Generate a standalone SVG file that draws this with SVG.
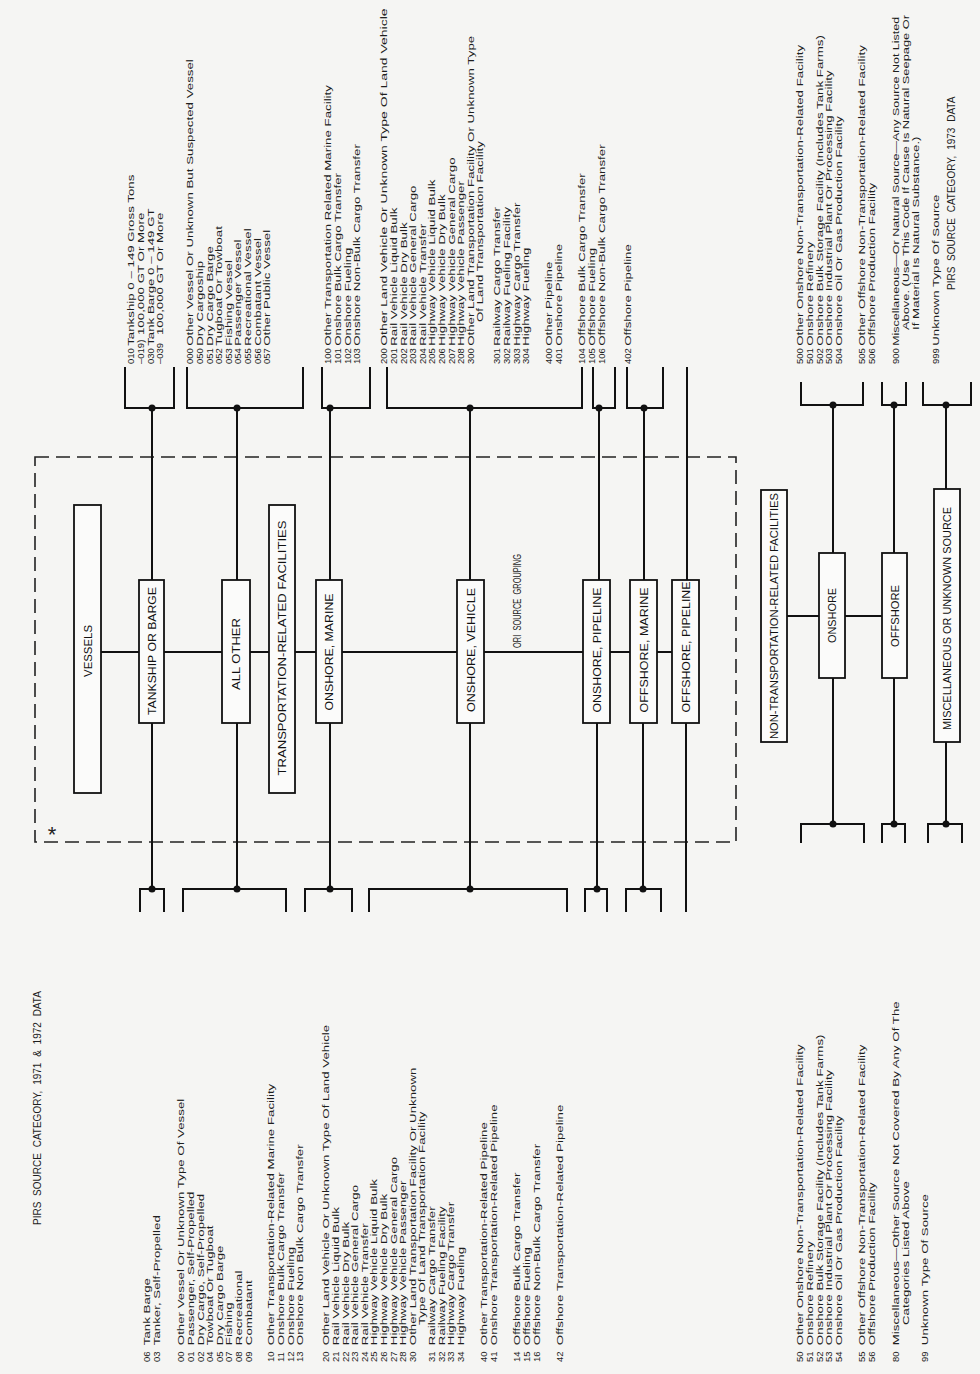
<svg xmlns="http://www.w3.org/2000/svg" width="980" height="1374" viewBox="0 0 980 1374">
<style>
.t{font-family:"Liberation Sans",Arial,sans-serif;font-size:9.5px;fill:#1e1e1e}
.h{font-family:"Liberation Sans",Arial,sans-serif;font-size:10px;fill:#1e1e1e;word-spacing:3px}
.b{font-family:"Liberation Sans",Arial,sans-serif;font-size:11px;fill:#111;text-anchor:middle}
.box{fill:#fbfbfa;stroke:#111;stroke-width:1.8}
.ln{stroke:#111;stroke-width:2;fill:none}
.dash{stroke:#222;stroke-width:1.6;fill:none;stroke-dasharray:14 7}
.dot{fill:#111}
</style>
<rect width="980" height="1374" fill="#f5f5f3"/>

<g id="titles">
<text class="h" transform="translate(955,290) rotate(-90)">PIRS SOURCE CATEGORY, 1973 DATA</text>
<text class="h" transform="translate(41,1225) rotate(-90)">PIRS SOURCE CATEGORY, 1971 &amp; 1972 DATA</text>
<text class="h" transform="translate(521,648) rotate(-90)" textLength="94" lengthAdjust="spacingAndGlyphs">ORI SOURCE GROUPING</text>
</g>

<g id="group-frame">
<rect class="dash" x="35" y="457" width="701" height="385"/>
<text x="52" y="842" font-family="Liberation Sans,Arial,sans-serif" font-size="22" fill="#222" text-anchor="middle">*</text>
</g>

<g id="connectors">
<line class="ln" x1="101" y1="652" x2="672" y2="652"/>
<line class="ln" x1="787" y1="616" x2="882" y2="616"/>
<path class="ln" d="M152,408V580M152,723V889"/>
<path class="ln" d="M237,408V580M237,723V889"/>
<path class="ln" d="M330,408V580M330,723V889"/>
<path class="ln" d="M470,408V580M470,723V889"/>
<path class="ln" d="M599,408V580M597,723V889"/>
<path class="ln" d="M644,408V580M643,723V889"/>
<path class="ln" d="M687,367V580M686,723V912"/>
<path class="ln" d="M833,405V553M833,678V824"/>
<path class="ln" d="M894,405V553M894,678V824"/>
<path class="ln" d="M946,405V489M946,742V824"/>
<path class="ln" d="M125,367V408H174V367"/>
<path class="ln" d="M187,367V408H303V367"/>
<path class="ln" d="M322,367V408H370V367"/>
<path class="ln" d="M387,367V408H582V367"/>
<path class="ln" d="M593,367V408H615V367"/>
<path class="ln" d="M627,367V408H663V367"/>
<path class="ln" d="M140,912V889H164V912"/>
<path class="ln" d="M183,912V889H286V912"/>
<path class="ln" d="M305,912V889H352V912"/>
<path class="ln" d="M369,912V889H567V912"/>
<path class="ln" d="M585,912V889H607V912"/>
<path class="ln" d="M626,912V889H661V912"/>
<path class="ln" d="M801,382V405H863V382"/>
<path class="ln" d="M882,382V405H906V382"/>
<path class="ln" d="M923,382V405H971V382"/>
<path class="ln" d="M801,843V824H864V843"/>
<path class="ln" d="M882,843V824H905V843"/>
<path class="ln" d="M928,843V824H962V843"/>
<circle class="dot" cx="152" cy="408" r="3.5"/><circle class="dot" cx="237" cy="408" r="3.5"/>
<circle class="dot" cx="330" cy="408" r="3.5"/><circle class="dot" cx="470" cy="408" r="3.5"/>
<circle class="dot" cx="599" cy="408" r="3.5"/><circle class="dot" cx="644" cy="408" r="3.5"/>
<circle class="dot" cx="152" cy="889" r="3.5"/><circle class="dot" cx="237" cy="889" r="3.5"/>
<circle class="dot" cx="330" cy="889" r="3.5"/><circle class="dot" cx="470" cy="889" r="3.5"/>
<circle class="dot" cx="597" cy="889" r="3.5"/><circle class="dot" cx="643" cy="889" r="3.5"/>
<circle class="dot" cx="833" cy="405" r="3.5"/><circle class="dot" cx="894" cy="405" r="3.5"/><circle class="dot" cx="946" cy="405" r="3.5"/>
<circle class="dot" cx="833" cy="824" r="3.5"/><circle class="dot" cx="894" cy="824" r="3.5"/><circle class="dot" cx="946" cy="824" r="3.5"/>
</g>

<g id="node-vessels"><rect class="box" x="74" y="505" width="27" height="288"/><text class="b" transform="translate(91.5,651) rotate(-90)" textLength="52" lengthAdjust="spacingAndGlyphs">VESSELS</text></g>
<g id="node-tankship"><rect class="box" x="139" y="580" width="25" height="143"/><text class="b" transform="translate(155.5,651) rotate(-90)" textLength="128" lengthAdjust="spacingAndGlyphs">TANKSHIP OR BARGE</text></g>
<g id="node-allother"><rect class="box" x="222" y="580" width="28" height="143"/><text class="b" transform="translate(240,654) rotate(-90)" textLength="72" lengthAdjust="spacingAndGlyphs">ALL OTHER</text></g>
<g id="node-transport"><rect class="box" x="269" y="505" width="26" height="288"/><text class="b" transform="translate(286,648) rotate(-90)" textLength="255" lengthAdjust="spacingAndGlyphs">TRANSPORTATION-RELATED FACILITIES</text></g>
<g id="node-onshore-marine"><rect class="box" x="316" y="580" width="26" height="143"/><text class="b" transform="translate(333,652) rotate(-90)" textLength="117" lengthAdjust="spacingAndGlyphs">ONSHORE, MARINE</text></g>
<g id="node-onshore-vehicle"><rect class="box" x="457" y="580" width="27" height="143"/><text class="b" transform="translate(474.5,650) rotate(-90)" textLength="124" lengthAdjust="spacingAndGlyphs">ONSHORE, VEHICLE</text></g>
<g id="node-onshore-pipeline"><rect class="box" x="583" y="580" width="27" height="143"/><text class="b" transform="translate(600.5,650) rotate(-90)" textLength="125" lengthAdjust="spacingAndGlyphs">ONSHORE, PIPELINE</text></g>
<g id="node-offshore-marine"><rect class="box" x="630" y="580" width="27" height="143"/><text class="b" transform="translate(647.5,650) rotate(-90)" textLength="125" lengthAdjust="spacingAndGlyphs">OFFSHORE, MARINE</text></g>
<g id="node-offshore-pipeline"><rect class="box" x="672" y="580" width="27" height="143"/><text class="b" transform="translate(689.5,647) rotate(-90)" textLength="131" lengthAdjust="spacingAndGlyphs">OFFSHORE, PIPELINE</text></g>
<g id="node-nontransport"><rect class="box" x="761" y="490" width="26" height="252"/><text class="b" transform="translate(778,616) rotate(-90)" textLength="246" lengthAdjust="spacingAndGlyphs">NON-TRANSPORTATION-RELATED FACILITIES</text></g>
<g id="node-onshore"><rect class="box" x="819" y="553" width="26" height="125"/><text class="b" transform="translate(836,615.5) rotate(-90)" textLength="55" lengthAdjust="spacingAndGlyphs">ONSHORE</text></g>
<g id="node-offshore"><rect class="box" x="882" y="553" width="25" height="125"/><text class="b" transform="translate(898.5,616) rotate(-90)" textLength="62" lengthAdjust="spacingAndGlyphs">OFFSHORE</text></g>
<g id="node-misc"><rect class="box" x="934" y="489" width="26" height="253"/><text class="b" transform="translate(951,618.5) rotate(-90)" textLength="223" lengthAdjust="spacingAndGlyphs">MISCELLANEOUS OR UNKNOWN SOURCE</text></g>

<g id="codes-1973" class="t" transform="translate(0,364) rotate(-90)">
<text x="0" y="134.4">010</text><text x="0" y="144">–019)</text><text x="0" y="153.6">030</text><text x="0" y="163.2">–039</text>
<text x="0" y="193.4">000</text><text x="0" y="203">050</text><text x="0" y="212.6">051</text><text x="0" y="222.2">052</text>
<text x="0" y="231.8">053</text><text x="0" y="241.4">054</text><text x="0" y="251">055</text><text x="0" y="260.6">056</text><text x="0" y="270.2">057</text>
<text x="0" y="331.4">100</text><text x="0" y="341">101</text><text x="0" y="350.6">102</text><text x="0" y="360.2">103</text>
<text x="0" y="387.4">200</text><text x="0" y="397">201</text><text x="0" y="406.6">202</text><text x="0" y="416.2">203</text>
<text x="0" y="425.8">204</text><text x="0" y="435.4">205</text><text x="0" y="445">206</text><text x="0" y="454.6">207</text>
<text x="0" y="464.2">208</text><text x="0" y="473.8">300</text>
<text x="0" y="500.4">301</text><text x="0" y="510">302</text><text x="0" y="519.6">303</text><text x="0" y="529.2">304</text>
<text x="0" y="552.4">400</text><text x="0" y="562">401</text>
<text x="0" y="585.4">104</text><text x="0" y="595">105</text><text x="0" y="604.6">106</text>
<text x="0" y="631.4">402</text>
<text x="0" y="803.4">500</text><text x="0" y="813">501</text><text x="0" y="822.6">502</text><text x="0" y="832.2">503</text><text x="0" y="841.8">504</text>
<text x="0" y="865.4">505</text><text x="0" y="875">506</text>
<text x="0" y="899.4">900</text>
<text x="0" y="939.4">999</text>
</g>

<g id="list-1973" class="t" transform="translate(0,364) rotate(-90) scale(1.4,1)">
<text x="13" y="134.4">Tankship 0 – 149 Gross Tons</text>
<text x="20.7" y="144">100,000 GT Or More</text>
<text x="13" y="153.6">Tank Barge 0 – 149 GT</text>
<text x="20.7" y="163.2">100,000 GT Or More</text>
<text x="13" y="193.4">Other Vessel Or Unknown But Suspected Vessel</text>
<text x="13" y="203">Dry Cargoship</text>
<text x="13" y="212.6">Dry Cargo Barge</text>
<text x="13" y="222.2">Tugboat Or Towboat</text>
<text x="13" y="231.8">Fishing Vessel</text>
<text x="13" y="241.4">Passenger Vessel</text>
<text x="13" y="251">Recreational Vessel</text>
<text x="13" y="260.6">Combatant Vessel</text>
<text x="13" y="270.2">Other Public Vessel</text>
<text x="13" y="331.4">Other Transportation Related Marine Facility</text>
<text x="13" y="341">Onshore Bulk Cargo Transfer</text>
<text x="13" y="350.6">Onshore Fueling</text>
<text x="13" y="360.2">Onshore Non-Bulk Cargo Transfer</text>
<text x="13" y="387.4" textLength="241" lengthAdjust="spacingAndGlyphs">Other Land Vehicle Or Unknown Type Of Land Vehicle</text>
<text x="13" y="397">Rail Vehicle Liquid Bulk</text>
<text x="13" y="406.6">Rail Vehicle Dry Bulk</text>
<text x="13" y="416.2">Rail Vehicle General Cargo</text>
<text x="13" y="425.8">Rail Vehicle Transfer</text>
<text x="13" y="435.4">Highway Vehicle Liquid Bulk</text>
<text x="13" y="445">Highway Vehicle Dry Bulk</text>
<text x="13" y="454.6">Highway Vehicle General Cargo</text>
<text x="13" y="464.2">Highway Vehicle Passenger</text>
<text x="13" y="473.8">Other Land Transportation Facility Or Unknown Type</text>
<text x="30" y="483.4">Of Land Transportation Facility</text>
<text x="13" y="500.4">Railway Cargo Transfer</text>
<text x="13" y="510">Railway Fueling Facility</text>
<text x="13" y="519.6">Highway Cargo Transfer</text>
<text x="13" y="529.2">Highway Fueling</text>
<text x="13" y="552.4">Other Pipeline</text>
<text x="13" y="562">Onshore Pipeline</text>
<text x="13" y="585.4">Offshore Bulk Cargo Transfer</text>
<text x="13" y="595">Offshore Fueling</text>
<text x="13" y="604.6">Offshore Non-Bulk Cargo Transfer</text>
<text x="13" y="631.4">Offshore Pipeline</text>
<text x="13" y="803.4">Other Onshore Non-Transportation-Related Facility</text>
<text x="13" y="813">Onshore Refinery</text>
<text x="13" y="822.6">Onshore Bulk Storage Facility (Includes Tank Farms)</text>
<text x="13" y="832.2">Onshore Industrial Plant Or Processing Facility</text>
<text x="13" y="841.8">Onshore Oil Or Gas Production Facility</text>
<text x="13" y="865.4">Other Offshore Non-Transportation-Related Facility</text>
<text x="13" y="875">Offshore Production Facility</text>
<text x="13" y="899.4" font-size="9" textLength="235" lengthAdjust="spacingAndGlyphs">Miscellaneous—Or Natural Source—Any Source Not Listed</text>
<text x="24.3" y="909" font-size="9" textLength="225" lengthAdjust="spacingAndGlyphs">Above. (Use This Code If Cause Is Natural Seepage Or</text>
<text x="24.3" y="918.6">If Material Is Natural Substance.)</text>
<text x="13" y="939.4">Unknown Type Of Source</text>
</g>

<g id="codes-1971-1972" class="t" transform="translate(0,1362) rotate(-90)">
<text x="0" y="150.4">06</text><text x="0" y="160">03</text>
<text x="0" y="184.4">00</text><text x="0" y="194">01</text><text x="0" y="203.6">02</text><text x="0" y="213.2">04</text>
<text x="0" y="222.8">05</text><text x="0" y="232.4">07</text><text x="0" y="242">08</text><text x="0" y="251.6">09</text>
<text x="0" y="274.4">10</text><text x="0" y="284">11</text><text x="0" y="293.6">12</text><text x="0" y="303.2">13</text>
<text x="0" y="329.4">20</text><text x="0" y="339">21</text><text x="0" y="348.6">22</text><text x="0" y="358.2">23</text>
<text x="0" y="367.8">24</text><text x="0" y="377.4">25</text><text x="0" y="387">26</text><text x="0" y="396.6">27</text>
<text x="0" y="406.2">28</text><text x="0" y="415.8">30</text>
<text x="0" y="435">31</text><text x="0" y="444.6">32</text><text x="0" y="454.2">33</text><text x="0" y="463.8">34</text>
<text x="0" y="487.4">40</text><text x="0" y="497">41</text>
<text x="0" y="520.4">14</text><text x="0" y="530">15</text><text x="0" y="539.6">16</text>
<text x="0" y="563.4">42</text>
<text x="0" y="803.4">50</text><text x="0" y="813">51</text><text x="0" y="822.6">52</text><text x="0" y="832.2">53</text><text x="0" y="841.8">54</text>
<text x="0" y="865.4">55</text><text x="0" y="875">56</text>
<text x="0" y="899.4">80</text>
<text x="0" y="928.4">99</text>
</g>

<g id="list-1971-1972" class="t" transform="translate(0,1362) rotate(-90) scale(1.4,1)">
<text x="12" y="150.4">Tank Barge</text>
<text x="12" y="160">Tanker, Self-Propelled</text>
<text x="12" y="184.4">Other Vessel Or Unknown Type Of Vessel</text>
<text x="12" y="194">Passenger, Self-Propelled</text>
<text x="12" y="203.6">Dry Cargo, Self-Propelled</text>
<text x="12" y="213.2">Towboat Or Tugboat</text>
<text x="12" y="222.8">Dry Cargo Barge</text>
<text x="12" y="232.4">Fishing</text>
<text x="12" y="242">Recreational</text>
<text x="12" y="251.6">Combatant</text>
<text x="12" y="274.4">Other Transportation-Related Marine Facility</text>
<text x="12" y="284">Onshore Bulk Cargo Transfer</text>
<text x="12" y="293.6">Onshore Fueling</text>
<text x="12" y="303.2">Onshore Non Bulk Cargo Transfer</text>
<text x="12" y="329.4">Other Land Vehicle Or Unknown Type Of Land Vehicle</text>
<text x="12" y="339">Rail Vehicle Liquid Bulk</text>
<text x="12" y="348.6">Rail Vehicle Dry Bulk</text>
<text x="12" y="358.2">Rail Vehicle General Cargo</text>
<text x="12" y="367.8">Rail Vehicle Transfer</text>
<text x="12" y="377.4">Highway Vehicle Liquid Bulk</text>
<text x="12" y="387">Highway Vehicle Dry Bulk</text>
<text x="12" y="396.6">Highway Vehicle General Cargo</text>
<text x="12" y="406.2">Highway Vehicle Passenger</text>
<text x="12" y="415.8">Other Land Transportation Facility  Or Unknown</text>
<text x="26.4" y="425.4">Type Of Land Transportation Facility</text>
<text x="12" y="435">Railway Cargo Transfer</text>
<text x="12" y="444.6">Railway Fueling Facility</text>
<text x="12" y="454.2">Highway Cargo Transfer</text>
<text x="12" y="463.8">Highway Fueling</text>
<text x="12" y="487.4">Other Transportation-Related Pipeline</text>
<text x="12" y="497">Onshore Transportation-Related Pipeline</text>
<text x="12" y="520.4">Offshore Bulk Cargo Transfer</text>
<text x="12" y="530">Offshore Fueling</text>
<text x="12" y="539.6">Offshore Non-Bulk Cargo Transfer</text>
<text x="12" y="563.4">Offshore Transportation-Related Pipeline</text>
<text x="12" y="803.4">Other Onshore Non-Transportation-Related Facility</text>
<text x="12" y="813">Onshore Refinery</text>
<text x="12" y="822.6">Onshore Bulk Storage Facility (Includes Tank Farms)</text>
<text x="12" y="832.2">Onshore Industrial Plant Or Processing Facility</text>
<text x="12" y="841.8">Onshore Oil Or Gas Production Facility</text>
<text x="12" y="865.4">Other Offshore Non-Transportation-Related Facility</text>
<text x="12" y="875">Offshore Production Facility</text>
<text x="12" y="899.4">Miscellaneous—Other Source Not Covered By Any Of The</text>
<text x="26.4" y="909">Categories Listed Above</text>
<text x="12" y="928.4">Unknown Type Of Source</text>
</g>
</svg>
